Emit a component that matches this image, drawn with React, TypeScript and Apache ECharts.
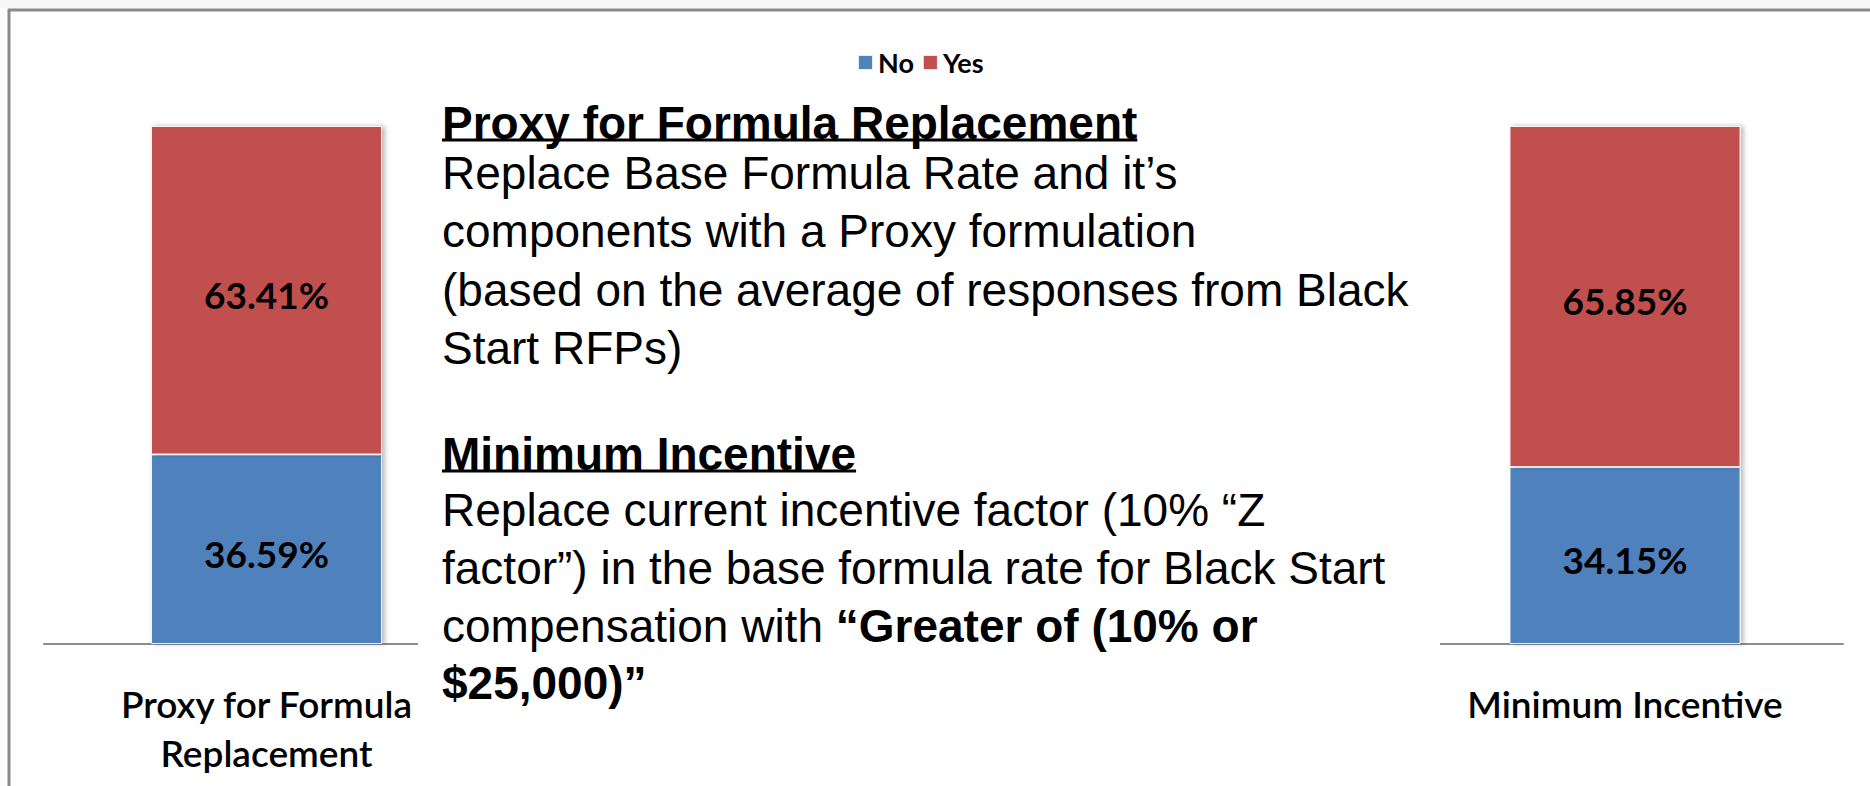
import React, { useEffect, useRef } from "react";
import * as echarts from "echarts";

const categories = ["Proxy for Formula\nReplacement", "Minimum Incentive"];
const noValues = [36.59, 34.15];
const yesValues = [63.41, 65.85];
const seriesNames = ["No", "Yes"];

const block1Title = "Proxy for Formula Replacement";
const block1Lines = [
  "Replace Base Formula Rate and it\u2019s",
  "components with a Proxy formulation",
  "(based on the average of responses from Black",
  "Start RFPs)",
];
const block2Title = "Minimum Incentive";
const block2Lines = [
  "Replace current incentive factor (10% \u201cZ",
  "factor\u201d) in the base formula rate for Black Start",
  "compensation with {b|\u201cGreater of (10% or}",
  "{b|$25,000)\u201d}",
];

const BODY_FONT = '"Liberation Sans", Arial, sans-serif';
const CHART_FONT = 'Lato, "Open Sans", sans-serif';

function measure(text: string, font: string): number {
  const c = document.createElement("canvas");
  const ctx = c.getContext("2d");
  if (!ctx) return text.length * 24;
  ctx.font = font;
  return ctx.measureText(text).width;
}

export default function App() {
  const ref = useRef<HTMLDivElement>(null);
  useEffect(() => {
    if (!ref.current) return;
    const chart = echarts.init(ref.current, undefined, { renderer: "svg" });
    const blue = "#4F81BD";
    const red = "#C0504D";
    const textX = 442;
    const fs = 46;

    const bodyText = (text: string, y: number, bold = false) => ({
      type: "text",
      x: textX,
      y,
      z: 110,
      style: {
        text,
        fontSize: fs,
        fontFamily: BODY_FONT,
        fontWeight: bold ? "bold" : "normal",
        fill: "#000",
        verticalAlign: "middle",
        align: "left",
        rich: {
          b: { fontSize: fs, fontFamily: BODY_FONT, fontWeight: "bold", fill: "#000" },
        },
      },
    });

    const t1w = measure(block1Title, `bold ${fs}px ${BODY_FONT}`);
    const t2w = measure(block2Title, `bold ${fs}px ${BODY_FONT}`);

    const b1Y = [173, 231, 290, 348];
    const b2Y = [510, 568, 626, 683];

    const graphics: any[] = [
      { type: "rect", z: 100, shape: { x: 0, y: 0, width: 1870, height: 8 }, style: { fill: "#f6f6f6" } },
      { type: "line", z: 100, shape: { x1: 8, y1: 10, x2: 1870, y2: 10 }, style: { stroke: "#8a8a8a", lineWidth: 3 } },
      { type: "line", z: 100, shape: { x1: 9, y1: 9, x2: 9, y2: 786 }, style: { stroke: "#8a8a8a", lineWidth: 3 } },
      { type: "rect", z: 100, shape: { x: 418, y: 636, width: 1022, height: 16 }, style: { fill: "#ffffff" } },
      bodyText(block1Title, 123, true),
      { type: "line", z: 110, shape: { x1: textX, y1: 140, x2: textX + t1w, y2: 140 }, style: { stroke: "#000", lineWidth: 3 } },
      ...block1Lines.map((l, i) => bodyText(l, b1Y[i])),
      bodyText(block2Title, 454, true),
      { type: "line", z: 110, shape: { x1: textX, y1: 471, x2: textX + t2w, y2: 471 }, style: { stroke: "#000", lineWidth: 3 } },
      ...block2Lines.map((l, i) => bodyText(l, b2Y[i])),
    ];

    const grids = [
      { left: 44, width: 445, top: 126, bottom: 142 },
      { left: 1407, width: 436, top: 126, bottom: 142 },
    ];

    const barLabel = {
      show: true,
      position: "inside",
      offset: [0, 4],
      color: "#000",
      fontSize: 37,
      fontWeight: "bold",
      fontFamily: CHART_FONT,
      formatter: (p: any) => Number(p.value).toFixed(2) + "%",
    };

    const barStyle = (color: string) => ({
      color,
      borderColor: "rgba(255,255,255,0.85)",
      borderWidth: 1,
      shadowColor: "rgba(0,0,0,0.28)",
      shadowBlur: 5,
      shadowOffsetX: 3,
      shadowOffsetY: 0,
    });

    const series: any[] = [];
    categories.forEach((_, gi) => {
      series.push({
        name: seriesNames[0],
        type: "bar",
        xAxisIndex: gi,
        yAxisIndex: gi,
        stack: "g" + gi,
        barWidth: 231,
        data: [noValues[gi]],
        itemStyle: barStyle(blue),
        label: barLabel,
      });
      series.push({
        name: seriesNames[1],
        type: "bar",
        xAxisIndex: gi,
        yAxisIndex: gi,
        stack: "g" + gi,
        barWidth: 231,
        data: [yesValues[gi]],
        itemStyle: barStyle(red),
        label: barLabel,
      });
    });

    chart.setOption({
      animation: false,
      backgroundColor: "#ffffff",
      legend: {
        data: seriesNames,
        left: 852,
        top: 44,
        icon: "rect",
        itemWidth: 15,
        itemHeight: 15,
        itemGap: 8,
        textStyle: { fontSize: 27, fontWeight: "bold", fontFamily: CHART_FONT, color: "#000" },
      },
      grid: grids,
      xAxis: categories.map((c, gi) => ({
        type: "category",
        gridIndex: gi,
        data: [c],
        axisLine: { show: true, lineStyle: { color: "#8c8c8c", width: 2 } },
        axisTick: { show: false },
        axisLabel: {
          margin: 35,
          color: "#000",
          fontSize: 37,
          fontWeight: 600,
          fontFamily: CHART_FONT,
          lineHeight: 49,
        },
      })),
      yAxis: categories.map((_, gi) => ({
        type: "value",
        gridIndex: gi,
        min: 0,
        max: 100,
        show: false,
        splitLine: { show: false },
      })),
      series,
      graphic: graphics,
    });
    return () => chart.dispose();
  }, []);
  return (
    <div
      ref={ref}
      style={{ position: "fixed", left: 0, top: 0, width: 1870, height: 786, background: "#fff" }}
    />
  );
}
